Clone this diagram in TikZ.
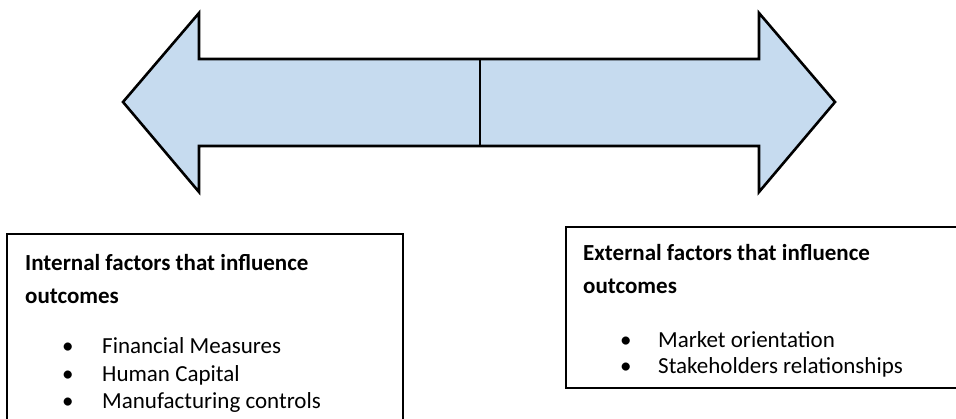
\documentclass[tikz,border=0pt]{standalone}
\usepackage{fontspec}
\setmainfont{Carlito}
\definecolor{arrowblue}{RGB}{198, 219, 239}
\usepackage{tikz}

\begin{document}
\begin{tikzpicture}[x=1pt, y=-1pt,
    factorbox/.style={draw=black, line width=1.6pt},
    headline/.style={anchor=base west, inner sep=0pt, font=\fontsize{23}{27}\selectfont\bfseries},
    bulletline/.style={anchor=base west, inner sep=0pt, font=\fontsize{23}{27}\selectfont}]
    \clip (0,0) rectangle (956,418);
    \fill[white] (0,0) rectangle (956,418);

    % Double arrow
    \draw[fill=arrowblue, line width=2.6pt, line join=miter] (123,102) -- (199,13) -- (199,59) -- (759,59) -- (759,13)
        -- (835,102) -- (759,192) -- (759,146) -- (199,146) -- (199,192) -- cycle;
    \coordinate (midtop) at (480,59);
    \coordinate (midbot) at (480,146);
    \draw[line width=1.8pt] (midtop) -- (midbot);

    % Internal factors
    \draw[factorbox] (7,234) rectangle (403,430);
    \node[headline] (inthead) at (25,270) {Internal factors that influence};
    \node[headline] (intout) at (25,303) {outcomes};
    \node[bulletline] (intfin) at (62,353) {\makebox[40pt][l]{•}Financial Measures};
    \node[bulletline] (inthum) at (62,381) {\makebox[40pt][l]{•}Human Capital};
    \node[bulletline] (intman) at (62,408) {\makebox[40pt][l]{•}Manufacturing controls};

    % External factors
    \draw[factorbox] (566,227) rectangle (970,388);
    \node[headline] (exthead) at (583,260) {External factors that influence};
    \node[headline] (extout) at (583,293) {outcomes};
    \node[bulletline] (extmar) at (620,347) {\makebox[38pt][l]{•}Market orientation};
    \node[bulletline] (extsta) at (620,373) {\makebox[38pt][l]{•}Stakeholders relationships};
\end{tikzpicture}
\end{document}
